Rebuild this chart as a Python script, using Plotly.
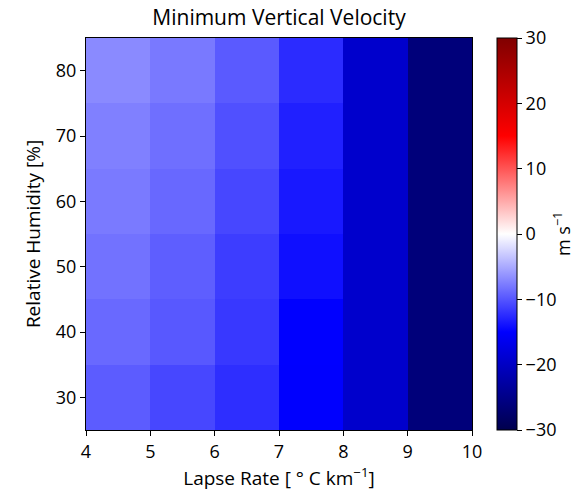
import plotly.graph_objects as go

lapse_rate = [4.5, 5.5, 6.5, 7.5, 8.5, 9.5]
humidity = [30, 40, 50, 60, 70, 80]
# rows: humidity 30..80, columns: lapse rate 4.5..9.5
w_min = [
    [-9.6, -10.8, -12.3, -15.1, -19.3, -26.2],
    [-8.8, -9.8, -11.7, -15.0, -19.3, -26.2],
    [-8.3, -9.5, -11.4, -14.1, -19.3, -26.2],
    [-7.8, -8.9, -10.8, -13.6, -19.3, -26.2],
    [-7.5, -8.5, -10.3, -13.1, -19.3, -26.2],
    [-6.9, -7.9, -9.7, -12.5, -19.3, -26.2],
]
x_ticks = [4, 5, 6, 7, 8, 9, 10]
y_ticks = [30, 40, 50, 60, 70, 80]
cbar_ticks = [-30, -20, -10, 0, 10, 20, 30]

seismic = [
    [0.0, "rgb(0,0,77)"],
    [0.25, "rgb(0,0,255)"],
    [0.5, "rgb(255,255,255)"],
    [0.75, "rgb(255,0,0)"],
    [1.0, "rgb(128,0,0)"],
]

FONT = "Open Sans"
L, R, T, B = 86, 472, 38, 430
W, H = 577, 491

fig = go.Figure(
    go.Heatmap(
        x=lapse_rate,
        y=humidity,
        z=w_min,
        zmin=-30,
        zmax=30,
        colorscale=seismic,
        colorbar=dict(
            x=(497 - L) / (R - L),
            xanchor="left",
            xpad=0,
            y=0.5,
            yanchor="middle",
            ypad=0,
            len=1.0,
            lenmode="fraction",
            thickness=20,
            thicknessmode="pixels",
            outlinecolor="black",
            outlinewidth=1,
            tickvals=cbar_ticks,
            ticktext=[str(v).replace("-", "−") for v in cbar_ticks],
            ticks="outside",
            ticklen=5,
            tickcolor="black",
            tickfont=dict(size=18, color="black", family=FONT),
        ),
    )
)

fig.update_layout(
    width=W,
    height=H,
    margin=dict(l=L, r=W - R, t=T, b=H - B, autoexpand=False),
    paper_bgcolor="white",
    plot_bgcolor="white",
    font=dict(family=FONT, color="black", size=18),
    title=dict(
        text="Minimum Vertical Velocity",
        x=(L + R) / 2 / W,
        xanchor="center",
        y=1 - 18 / H,
        yanchor="middle",
        font=dict(size=21, color="black", family=FONT),
    ),
    annotations=[
        dict(
            text="m s<sup>−1</sup>",
            textangle=-90,
            xref="paper",
            yref="paper",
            x=(577 - L) / (R - L),
            y=0.5,
            xanchor="right",
            yanchor="middle",
            showarrow=False,
            font=dict(size=18, color="black", family=FONT),
        )
    ],
)
fig.update_xaxes(
    range=[4, 10],
    tickvals=x_ticks,
    ticks="outside",
    ticklen=5,
    tickcolor="black",
    showline=True,
    linecolor="black",
    linewidth=1,
    mirror=True,
    showgrid=False,
    zeroline=False,
    tickfont=dict(size=18),
    title=dict(text="Lapse Rate [ ° C km<sup>−1</sup>]", font=dict(size=19), standoff=4),
)
fig.update_yaxes(
    range=[25, 85],
    tickvals=y_ticks,
    ticks="outside",
    ticklen=5,
    tickcolor="black",
    showline=True,
    linecolor="black",
    linewidth=1,
    mirror=True,
    showgrid=False,
    zeroline=False,
    tickfont=dict(size=18),
    title=dict(text="Relative Humidity [%]", font=dict(size=19), standoff=10),
)

fig.write_html("out.html")
